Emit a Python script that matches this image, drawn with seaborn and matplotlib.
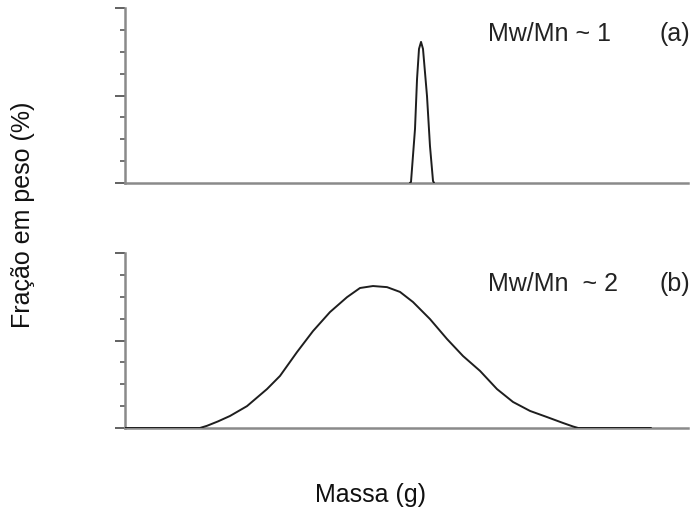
import matplotlib
matplotlib.use("Agg")
import matplotlib.pyplot as plt
import seaborn as sns
import pandas as pd

# ---- data ----
mass_a = [50.6, 50.8, 51.51, 51.87, 52.22, 52.58, 52.93, 53.64, 54.17, 54.71, 54.9]
frac_a = [0.0, 0.05, 2.47, 4.75, 6.13, 6.45, 6.13, 3.98, 1.69, 0.09, 0.0]

mass_b = [0.0, 13.3, 14.56, 16.5, 18.65, 21.67, 25.22, 27.53, 30.55, 33.39, 36.41, 39.43, 41.74,
          44.05, 46.54, 48.85, 51.15, 54.17, 57.19, 60.04, 63.06, 66.07, 68.92,
          71.94, 74.96, 77.80, 79.57, 80.5, 93.43]
frac_b = [0.0, 0.0, 0.1, 0.3, 0.55, 1.0, 1.78, 2.38, 3.47, 4.43, 5.30, 5.98, 6.40,
          6.49, 6.44, 6.22, 5.76, 4.98, 4.07, 3.29, 2.61, 1.78, 1.19,
          0.78, 0.50, 0.23, 0.07, 0.0, 0.0]

labels_ratio = ["Mw/Mn ~ 1", "Mw/Mn  ~ 2"]
labels_panel = ["(a)", "(b)"]
xlabel = "Massa (g)"
ylabel = "Fração em peso (%)"

sns.set_style("ticks")
plt.rcParams["font.family"] = ["Liberation Sans", "DejaVu Sans"]

W, H = 696, 510
fig = plt.figure(figsize=(W / 100, H / 100), dpi=100)

def add_axes(top_px, bottom_px):
    left, right = 125, 688
    return fig.add_axes([left / W, (H - bottom_px) / H, (right - left) / W, (bottom_px - top_px) / H])

ax_a = add_axes(9, 184)
ax_b = add_axes(254, 429)

df_a = pd.DataFrame({"mass": mass_a, "frac": frac_a})
df_b = pd.DataFrame({"mass": mass_b, "frac": frac_b})

axis_col = "#8a8a8a"
for ax, df, r, p, ty in [(ax_a, df_a, labels_ratio[0], labels_panel[0], 34),
                         (ax_b, df_b, labels_ratio[1], labels_panel[1], 284)]:
    sns.lineplot(data=df, x="mass", y="frac", ax=ax, color="#1e1e1e", linewidth=1.4,
                 estimator=None, sort=False, zorder=3)
    ax.set_xlim(0, 100)
    ax.set_ylim(0, 8)
    for s in ["top", "right"]:
        ax.spines[s].set_visible(False)
    for s in ["left", "bottom"]:
        ax.spines[s].set_color(axis_col)
        ax.spines[s].set_linewidth(1.8)
    ax.set_xticks([])
    ax.set_yticks([0, 4, 8])
    ax.set_yticks([1, 2, 3, 5, 6, 7], minor=True)
    ax.set_yticklabels([])
    ax.tick_params(axis="y", which="major", length=7.2, width=1.3, color="#555555", direction="out")
    ax.tick_params(axis="y", which="minor", length=3.6, width=1.3, color="#666666", direction="out")
    ax.set_xlabel("")
    ax.set_ylabel("")
    fig.text(488 / W, 1 - ty / H, r, fontsize=18, color="#222222", va="center", ha="left")
    fig.text(690 / W, 1 - ty / H, p, fontsize=18, color="#222222", va="center", ha="right")

fig.text(370 / W, 1 - 495 / H, xlabel, fontsize=18, color="#111111", ha="center", va="center")
fig.text(23 / W, 1 - 215 / H, ylabel, fontsize=18, color="#111111", ha="center", va="center",
         rotation=90)

fig.savefig("out.png", dpi=100)
